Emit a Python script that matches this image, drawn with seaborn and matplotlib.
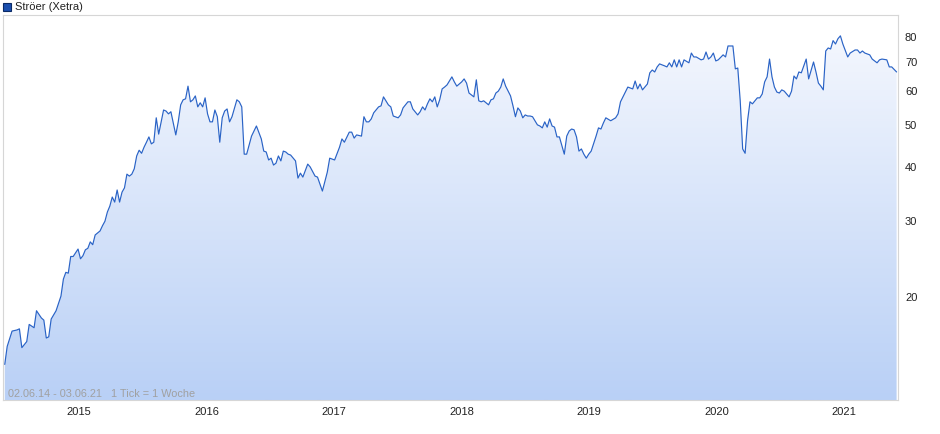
import numpy as np
import pandas as pd
import matplotlib
matplotlib.use("Agg")
import matplotlib.pyplot as plt
import seaborn as sns
from matplotlib.colors import LinearSegmentedColormap
from matplotlib.patches import Rectangle
from matplotlib.ticker import NullLocator

# weekly closes (week number since 02.06.14, price in EUR)
START = "2014-06-02"
weeks = [
    0, 1, 3, 5, 6, 7, 9, 10, 12, 13, 15, 16, 17, 18, 19, 21, 23, 24, 25, 26,
    27, 28, 30, 31, 32, 33, 34, 35, 36, 37, 38, 39, 40, 41, 42, 43, 44, 45, 46, 47,
    48, 49, 50, 51, 52, 53, 54, 55, 56, 57, 58, 59, 60, 61, 62, 63, 65, 66, 67, 68,
    70, 71, 72, 73, 74, 75, 76, 77, 78, 79, 80, 81, 82, 83, 84, 85, 86, 87, 88, 89,
    90, 91, 92, 93, 95, 96, 97, 98, 99, 100, 101, 103, 105, 106, 107, 108, 109, 110, 111, 112,
    113, 114, 115, 116, 117, 119, 120, 121, 122, 124, 125, 127, 128, 130, 132, 133, 135, 137, 138, 139,
    141, 142, 143, 144, 146, 147, 148, 149, 150, 151, 153, 154, 155, 157, 158, 159, 161, 162, 163, 165,
    166, 167, 169, 170, 171, 172, 173, 174, 175, 176, 177, 178, 179, 180, 181, 183, 184, 185, 187, 188,
    189, 190, 192, 193, 194, 195, 196, 198, 199, 200, 201, 202, 203, 204, 205, 207, 208, 209, 210, 211,
    212, 213, 214, 215, 216, 218, 219, 220, 221, 222, 223, 224, 225, 226, 227, 229, 230, 231, 232, 233,
    234, 235, 236, 237, 238, 239, 240, 242, 243, 244, 245, 246, 248, 250, 251, 252, 253, 255, 257, 258,
    259, 260, 261, 263, 264, 265, 266, 267, 268, 270, 271, 272, 273, 274, 275, 276, 277, 278, 280, 281,
    282, 283, 285, 286, 287, 288, 289, 290, 291, 292, 294, 295, 296, 298, 299, 300, 301, 302, 303, 304,
    305, 306, 308, 309, 310, 311, 312, 313, 314, 315, 316, 317, 318, 319, 320, 321, 322, 323, 324, 325,
    326, 328, 329, 331, 332, 333, 334, 335, 336, 337, 338, 339, 340, 341, 342, 343, 345, 346, 348, 349,
    350, 351, 352, 354, 355, 357, 358, 359, 361, 362, 363, 365,
]
prices = [
    13.9, 15.3, 16.6, 16.7, 16.8, 15.2, 15.7, 17.2, 16.9, 18.5, 17.8, 17.6, 16.0, 16.1, 17.7, 18.5, 20.0, 21.9, 22.7, 22.6,
    24.7, 24.7, 25.7, 24.4, 24.8, 25.6, 25.8, 26.7, 26.3, 27.7, 28.0, 28.3, 29.1, 29.8, 31.3, 32.3, 33.9, 33.0, 35.2, 33.0,
    34.8, 35.6, 38.3, 37.9, 38.3, 39.4, 42.2, 43.5, 42.8, 44.2, 45.4, 46.7, 45.0, 45.4, 51.7, 47.4, 53.9, 53.6, 52.8, 53.4,
    47.2, 50.6, 55.4, 56.9, 57.2, 61.2, 56.3, 56.9, 58.1, 54.8, 56.0, 54.8, 57.5, 52.8, 50.6, 50.6, 53.9, 52.0, 45.4, 51.7,
    53.6, 54.2, 50.6, 52.0, 56.9, 56.3, 54.8, 42.6, 42.6, 44.7, 46.9, 49.5, 46.2, 43.3, 43.1, 41.3, 41.7, 40.2, 40.6, 42.2,
    41.1, 43.3, 43.1, 42.6, 42.4, 41.1, 37.5, 38.5, 37.7, 40.4, 39.8, 37.9, 37.7, 35.0, 38.7, 41.7, 41.3, 44.2, 46.2, 45.4,
    47.9, 47.9, 46.4, 47.2, 46.9, 52.0, 50.6, 50.6, 51.4, 53.1, 54.8, 55.1, 57.8, 55.4, 54.8, 52.2, 51.7, 52.5, 54.5, 56.3,
    56.3, 54.2, 52.5, 53.4, 54.8, 53.9, 55.7, 57.2, 56.3, 57.8, 54.8, 56.9, 60.3, 60.9, 61.6, 64.3, 62.6, 61.2, 62.6, 63.6,
    62.2, 59.0, 57.8, 63.3, 56.6, 56.3, 56.6, 55.4, 56.9, 57.2, 59.0, 59.6, 60.9, 63.6, 61.2, 58.1, 55.1, 52.0, 54.5, 53.6,
    51.7, 52.5, 52.2, 52.2, 52.0, 49.8, 49.5, 49.0, 50.6, 49.2, 51.4, 49.5, 49.2, 46.7, 46.7, 42.6, 46.9, 48.2, 48.7, 48.5,
    46.7, 43.3, 43.8, 42.6, 41.7, 42.6, 43.3, 46.9, 49.0, 48.7, 50.3, 51.7, 50.9, 51.7, 52.8, 56.3, 57.8, 60.9, 60.3, 62.9,
    60.3, 61.9, 60.0, 61.9, 65.7, 66.7, 66.0, 67.8, 68.9, 68.2, 67.8, 69.3, 67.8, 70.4, 67.8, 70.4, 67.8, 70.4, 69.3, 73.0,
    71.5, 71.5, 70.4, 70.7, 73.4, 70.7, 71.5, 73.0, 70.0, 70.4, 72.3, 71.5, 75.8, 75.8, 67.1, 67.4, 56.6, 43.8, 42.8, 50.9,
    56.3, 55.7, 57.5, 57.5, 58.7, 62.6, 64.3, 70.7, 64.3, 60.9, 59.3, 59.0, 60.0, 59.6, 58.7, 57.8, 59.6, 64.6, 63.6, 66.0,
    65.7, 70.7, 63.6, 69.6, 66.0, 62.2, 61.2, 60.0, 73.8, 75.0, 74.6, 78.0, 76.6, 78.8, 80.0, 76.6, 71.5, 73.0, 74.2, 74.2,
    73.0, 73.8, 73.0, 72.3, 70.7, 69.3, 70.4, 70.7, 70.4, 67.8, 67.8, 66.0,
]
year_ticks = ["2015-01-01", "2016-01-01", "2017-01-01", "2018-01-01",
              "2019-01-01", "2020-01-01", "2021-01-01"]
year_labels = ["2015", "2016", "2017", "2018", "2019", "2020", "2021"]
y_ticks = [20, 30, 40, 50, 60, 70, 80]
y_range = (11.5, 89.4)
x_range = ("2014-05-28", "2021-06-04")

sns.set_style("white")
plt.rcParams["font.family"] = ["Liberation Sans", "DejaVu Sans"]

dates = pd.Timestamp(START) + pd.to_timedelta(np.array(weeks) * 7, unit="D")
df = pd.DataFrame({"date": dates, "price": prices})

fig = plt.figure(figsize=(9.4, 4.35), dpi=100)
pos = [3 / 940, 34 / 435, 895 / 940, 385 / 435]

# gradient background, clipped to the area under the line
bg = fig.add_axes(pos, zorder=0)
bg.axis("off")
cmap = LinearSegmentedColormap.from_list("fill", ["#f7f9fe", "#b9d0f6"])
grad = np.linspace(0, 1, 256).reshape(-1, 1)
im = bg.imshow(grad, extent=[0, 1, 0, 1], aspect="auto", cmap=cmap)

ax = fig.add_axes(pos, zorder=1)
ax.patch.set_alpha(0)
sns.lineplot(data=df, x="date", y="price", ax=ax, color="#2a63c6", linewidth=0.85)
ax.set_yscale("log")
poly = ax.fill_between(df["date"], df["price"], y_range[0],
                       facecolor="none", edgecolor="none")
im.set_clip_path(poly.get_paths()[0], transform=ax.transData)

ax.set_xlim(pd.Timestamp(x_range[0]), pd.Timestamp(x_range[1]))
ax.set_ylim(*y_range)

ax.yaxis.tick_right()
ax.set_yticks(y_ticks)
ax.set_yticklabels([str(v) for v in y_ticks])
ax.yaxis.set_minor_locator(NullLocator())
ax.set_xticks(pd.to_datetime(year_ticks))
ax.set_xticklabels(year_labels)
ax.xaxis.set_minor_locator(NullLocator())
ax.tick_params(axis="y", length=0, pad=5, labelsize=8, colors="#222222")
ax.tick_params(axis="x", length=0, pad=4, labelsize=8, colors="#222222")
ax.set_xlabel("")
ax.set_ylabel("")
for s in ax.spines.values():
    s.set_color("#d6d6d6")
    s.set_linewidth(0.8)

ax.text(0.006, 0.006, "02.06.14 - 03.06.21   1 Tick = 1 Woche",
        transform=ax.transAxes, fontsize=7.8, color="#a0a0a0", va="bottom")

# legend box at the top left
fig.add_artist(Rectangle((3 / 940, 1 - 12 / 435), 8 / 940, 8 / 435,
                         transform=fig.transFigure, facecolor="#1b4fae",
                         edgecolor="#0b2a66", linewidth=0.8))
fig.text(15 / 940, 1 - 7.5 / 435, "Ströer (Xetra)", va="center",
         fontsize=8, color="#222222")

fig.savefig("out.png", dpi=100)
